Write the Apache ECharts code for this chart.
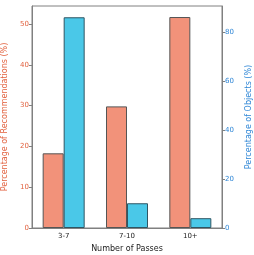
<!DOCTYPE html>
<html><head><meta charset="utf-8">
<script src="https://cdn.jsdelivr.net/npm/echarts@6/dist/echarts.min.js"></script>
<style>html,body{margin:0;padding:0;background:#fff}#c{width:254px;height:255px}</style>
</head><body><div id="c"></div>
<script>
const categories = ['3-7', '7-10', '10+'];
const recommendations = [18.3, 29.8, 51.7];
const objects = [86.0, 10.1, 4.0];

const chart = echarts.init(document.getElementById('c'), null, {renderer: 'canvas'});
const font = 'DejaVu Sans';
chart.setOption({
  animation: false,
  grid: {left: 32, right: 32, top: 6, bottom: 27, containLabel: false, outerBoundsMode: 'none', show: true, borderColor: '#808080', borderWidth: 1},
  xAxis: {
    type: 'category', data: categories,
    name: 'Number of Passes', nameLocation: 'middle', nameGap: 15,
    nameTextStyle: {fontFamily: font, fontSize: 8, color: '#222'},
    axisLine: {lineStyle: {color: '#808080'}},
    axisTick: {show: false},
    axisLabel: {fontFamily: font, fontSize: 7, color: '#222', margin: 5}
  },
  yAxis: [{
    type: 'value', min: 0, max: 54.4, interval: 10,
    name: 'Percentage of Recommendations (%)', nameLocation: 'middle', nameGap: 22,
    nameTextStyle: {fontFamily: font, fontSize: 8, color: '#E2623F'},
    axisLine: {show: true, lineStyle: {color: '#808080'}},
    axisTick: {show: true, length: 3, lineStyle: {color: '#808080'}},
    axisLabel: {fontFamily: font, fontSize: 7, color: '#E2623F', margin: 3, showMaxLabel: false},
    splitLine: {show: false}
  }, {
    type: 'value', min: 0, max: 90.6, interval: 20,
    name: 'Percentage of Objects (%)', nameLocation: 'middle', nameGap: 22, nameRotate: 90,
    nameTextStyle: {fontFamily: font, fontSize: 8, color: '#2E86D6'},
    axisLine: {show: true, lineStyle: {color: '#808080'}},
    axisTick: {show: true, length: 3, lineStyle: {color: '#808080'}},
    axisLabel: {fontFamily: font, fontSize: 7, color: '#2E86D6', margin: 3, showMaxLabel: false},
    splitLine: {show: false}
  }],
  series: [{
    type: 'bar', data: recommendations, yAxisIndex: 0,
    barWidth: 21, barGap: '0%',
    itemStyle: {color: '#F2927A', borderColor: '#555555', borderWidth: 1}
  }, {
    type: 'bar', data: objects, yAxisIndex: 1,
    barWidth: 21, barGap: '0%',
    itemStyle: {color: '#4AC8E8', borderColor: '#2F5563', borderWidth: 1}
  }]
});
</script></body></html>
